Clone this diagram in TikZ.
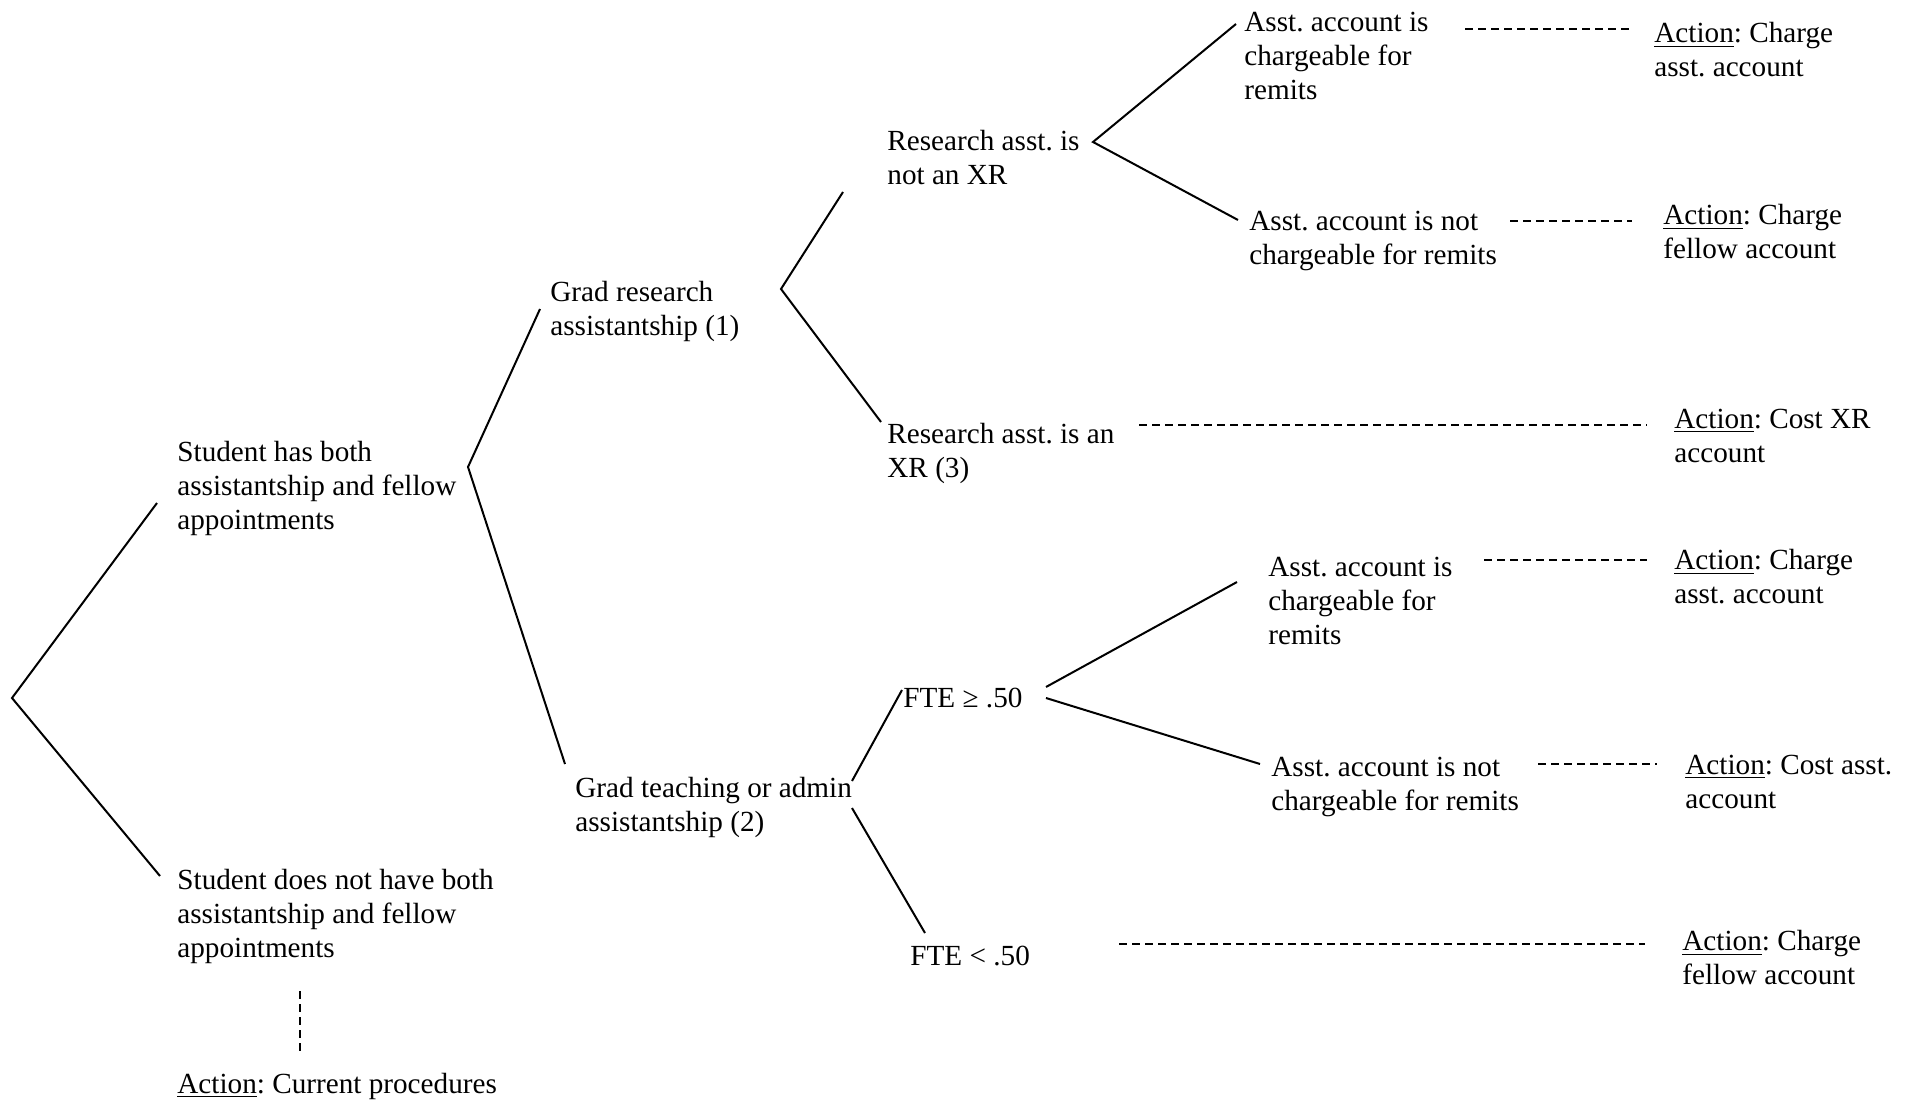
\documentclass[tikz,border=0pt]{standalone}
\usepackage{fontspec}
\setmainfont{Liberation Serif}
\frenchspacing
\begin{document}
\begin{tikzpicture}[x=0.5pt,y=-0.5pt,
  txt/.style={font=\fontsize{14.6}{17}\selectfont, align=left, inner sep=0pt, anchor=west},
  branch/.style={line width=1pt},
  dashline/.style={line width=0.9pt, dash pattern=on 4pt off 2.5pt}]
\useasboundingbox (0,0) rectangle (1913,1102);
% texts
\node[txt] (s1) at (177,488) {Student has both\\assistantship and fellow\\appointments};
\node[txt] (s2) at (177,916) {Student does not have both\\assistantship and fellow\\appointments};
\node[txt] (act0) at (177,1086) {\underline{Action}: Current procedures};
\node[txt] (gr) at (550,311) {Grad research\\assistantship (1)};
\node[txt] (gt) at (575,807) {Grad teaching or admin\\assistantship (2)};
\node[txt] (rn) at (887,158) {Research asst. is\\not an XR};
\node[txt] (rx) at (887,453) {Research asst. is an\\XR (3)};
\node[txt] (ax) at (1674,436) {\underline{Action}: Cost XR\\account};
\node[txt] (c1) at (1244,56) {Asst. account is\\chargeable for\\remits};
\node[txt] (a1) at (1654,50) {\underline{Action}: Charge\\asst. account};
\node[txt] (c2) at (1249,241) {Asst. account is not\\chargeable for remits};
\node[txt] (a2) at (1663,232) {\underline{Action}: Charge\\fellow account};
\node[txt] (fge) at (903,698) {FTE ≥ .50};
\node[txt] (flt) at (910,956) {FTE < .50};
\node[txt] (c3) at (1268,601) {Asst. account is\\chargeable for\\remits};
\node[txt] (a3) at (1674,577) {\underline{Action}: Charge\\asst. account};
\node[txt] (c4) at (1271,787) {Asst. account is not\\chargeable for remits};
\node[txt] (a4) at (1685,782) {\underline{Action}: Cost asst.\\account};
\node[txt] (a5) at (1682,958) {\underline{Action}: Charge\\fellow account};
% branch points
\coordinate (r0) at (12,698);
\coordinate (r0a) at (157,503);
\coordinate (r0b) at (160,876);
\coordinate (g0) at (468,467);
\coordinate (g0a) at (540,309);
\coordinate (g0b) at (565,764);
\coordinate (h0) at (781,289);
\coordinate (h0a) at (843,192);
\coordinate (h0b) at (881,422);
\coordinate (k0) at (1093,142);
\coordinate (k0a) at (1236,24);
\coordinate (k0b) at (1238,220);
\coordinate (f0a) at (852,781);
\coordinate (f0b) at (852,808);
\coordinate (f1a) at (902,690);
\coordinate (f1b) at (925,933);
\coordinate (m0a) at (1046,687);
\coordinate (m0b) at (1046,698);
\coordinate (m1a) at (1237,582);
\coordinate (m1b) at (1260,764);
% dashed ends
\coordinate (d0a) at (300,991);
\coordinate (d0b) at (300,1055);
\coordinate (d1a) at (1465,29);
\coordinate (d1b) at (1629,29);
\coordinate (d2a) at (1510,221);
\coordinate (d2b) at (1632,221);
\coordinate (d3a) at (1139,425);
\coordinate (d3b) at (1647,425);
\coordinate (d4a) at (1484,560);
\coordinate (d4b) at (1647,560);
\coordinate (d5a) at (1538,764);
\coordinate (d5b) at (1657,764);
\coordinate (d6a) at (1119,944);
\coordinate (d6b) at (1645,944);
% branches
\draw[branch] (r0a) -- (r0) -- (r0b);
\draw[branch] (g0a) -- (g0) -- (g0b);
\draw[branch] (h0a) -- (h0) -- (h0b);
\draw[branch] (k0a) -- (k0) -- (k0b);
\draw[branch] (f0a) -- (f1a);
\draw[branch] (f0b) -- (f1b);
\draw[branch] (m0a) -- (m1a);
\draw[branch] (m0b) -- (m1b);
% dashed connectors
\draw[dashline] (d0a) -- (d0b);
\draw[dashline] (d1a) -- (d1b);
\draw[dashline] (d2a) -- (d2b);
\draw[dashline] (d3a) -- (d3b);
\draw[dashline] (d4a) -- (d4b);
\draw[dashline] (d5a) -- (d5b);
\draw[dashline] (d6a) -- (d6b);
\end{tikzpicture}
\end{document}
